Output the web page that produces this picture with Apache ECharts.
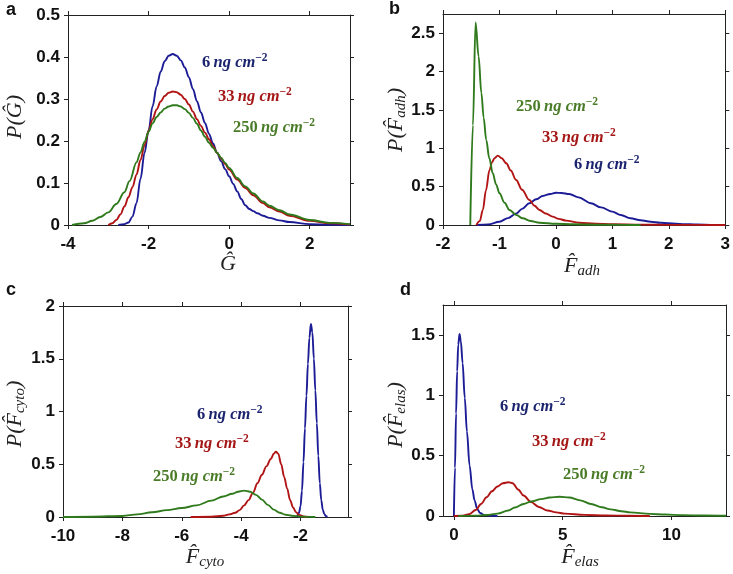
<!DOCTYPE html>
<html><head><meta charset="utf-8">
<script src="https://cdn.jsdelivr.net/npm/echarts@6/dist/echarts.min.js"></script>
<style>html,body{margin:0;padding:0;background:#fff}#c{width:733px;height:574px}</style>
</head><body><div id="c"></div>
<script>
// ---------- Panel a : G ----------
const aBlue = [[-2.75,0],[-2.6,0.002],[-2.5,0.006],[-2.4,0.02],[-2.3,0.052],[-2.2,0.11],[-2.1,0.172],[-2.0,0.225],[-1.9,0.283],[-1.8,0.33],[-1.7,0.365],[-1.6,0.39],[-1.5,0.403],[-1.4,0.407],[-1.3,0.403],[-1.2,0.392],[-1.1,0.375],[-1.0,0.352],[-0.9,0.324],[-0.8,0.295],[-0.7,0.268],[-0.6,0.243],[-0.5,0.217],[-0.4,0.194],[-0.3,0.172],[-0.2,0.152],[-0.1,0.133],[0,0.116],[0.1,0.098],[0.2,0.08],[0.3,0.062],[0.4,0.047],[0.5,0.038],[0.6,0.033],[0.7,0.028],[0.84,0.022],[1.0,0.017],[1.25,0.011],[1.5,0.007],[2,0.002],[2.5,0.0005],[3,0]];
const aRed = [[-3.0,0],[-2.9,0.004],[-2.8,0.012],[-2.7,0.025],[-2.6,0.044],[-2.5,0.066],[-2.4,0.09],[-2.3,0.12],[-2.2,0.155],[-2.1,0.19],[-2.0,0.224],[-1.9,0.252],[-1.8,0.275],[-1.7,0.294],[-1.6,0.307],[-1.5,0.315],[-1.4,0.318],[-1.3,0.316],[-1.2,0.31],[-1.1,0.3],[-1.0,0.287],[-0.9,0.27],[-0.8,0.252],[-0.7,0.236],[-0.6,0.22],[-0.5,0.204],[-0.4,0.188],[-0.3,0.172],[-0.2,0.158],[-0.1,0.145],[0,0.132],[0.2,0.108],[0.4,0.088],[0.6,0.071],[0.84,0.052],[1.0,0.042],[1.25,0.032],[1.5,0.022],[2.0,0.01],[2.5,0.004],[3,0.001]];
const aGreen = [[-3.9,0],[-3.6,0.004],[-3.4,0.01],[-3.2,0.019],[-3.0,0.03],[-2.8,0.05],[-2.6,0.078],[-2.47,0.105],[-2.3,0.149],[-2.2,0.173],[-2.1,0.198],[-2.0,0.222],[-1.9,0.242],[-1.8,0.257],[-1.7,0.268],[-1.6,0.277],[-1.5,0.282],[-1.4,0.285],[-1.3,0.285],[-1.2,0.282],[-1.1,0.276],[-1.0,0.267],[-0.9,0.255],[-0.8,0.241],[-0.7,0.225],[-0.6,0.21],[-0.5,0.196],[-0.4,0.184],[-0.3,0.172],[-0.2,0.16],[-0.1,0.148],[0,0.136],[0.2,0.112],[0.4,0.092],[0.6,0.075],[0.84,0.056],[1.0,0.046],[1.25,0.035],[1.5,0.025],[2.0,0.012],[2.5,0.005],[3,0.002]];
const aXTicks = [-4,-2,0,2];
const aYTicks = [0,0.1,0.2,0.3,0.4,0.5];

// ---------- Panel b : F_adh ----------
const bBlue = [[-1.4,0],[-1.2,0.008],[-1.0,0.043],[-0.85,0.09],[-0.7,0.152],[-0.6,0.21],[-0.47,0.283],[-0.35,0.335],[-0.235,0.378],[-0.1,0.405],[0.0,0.42],[0.1,0.418],[0.235,0.404],[0.4,0.36],[0.62,0.283],[0.8,0.23],[1.0,0.174],[1.15,0.13],[1.32,0.087],[1.5,0.062],[1.68,0.043],[1.85,0.03],[2.0,0.022],[2.25,0.012],[2.5,0.006],[2.75,0.002],[3.0,0]];
const bRed = [[-1.41,0],[-1.35,0.05],[-1.294,0.196],[-1.24,0.45],[-1.176,0.717],[-1.13,0.82],[-1.088,0.87],[-1.03,0.904],[-0.96,0.87],[-0.88,0.804],[-0.8,0.71],[-0.705,0.587],[-0.6,0.46],[-0.47,0.326],[-0.38,0.25],[-0.29,0.196],[-0.18,0.15],[-0.06,0.109],[0.05,0.08],[0.18,0.057],[0.41,0.03],[0.7,0.017],[1.0,0.01],[1.5,0.005],[2.0,0.002],[2.5,0.001],[3.0,0]];
const bGreen = [[-1.517,0],[-1.47,1.3],[-1.423,2.64],[-1.37,2.2],[-1.32,1.72],[-1.28,1.4],[-1.234,1.109],[-1.18,0.87],[-1.118,0.674],[-1.06,0.53],[-1.0,0.413],[-0.91,0.29],[-0.823,0.196],[-0.7,0.13],[-0.588,0.087],[-0.45,0.052],[-0.29,0.03],[0.0,0.016],[0.3,0.01],[0.8,0.004],[1.2,0.001],[1.5,0]];
const bXTicks = [-2,-1,0,1,2,3];
const bYTicks = [0,0.5,1,1.5,2,2.5];

// ---------- Panel c : F_cyto ----------
const cBlue = [[-2.15,0],[-2.1,0.01],[-2.05,0.04],[-2.0,0.1],[-1.95,0.25],[-1.9,0.52],[-1.85,0.84],[-1.8,1.15],[-1.75,1.45],[-1.7,1.7],[-1.65,1.83],[-1.6,1.75],[-1.55,1.5],[-1.5,1.2],[-1.45,0.89],[-1.4,0.58],[-1.35,0.32],[-1.3,0.16],[-1.25,0.07],[-1.2,0.03],[-1.15,0.01],[-1.1,0]];
const cRed = [[-5.7,0],[-5.0,0.003],[-4.6,0.012],[-4.4,0.025],[-4.2,0.04],[-4.05,0.065],[-3.9,0.11],[-3.75,0.16],[-3.6,0.23],[-3.45,0.32],[-3.3,0.4],[-3.15,0.48],[-3.0,0.55],[-2.9,0.6],[-2.83,0.62],[-2.75,0.6],[-2.65,0.5],[-2.55,0.38],[-2.45,0.27],[-2.35,0.16],[-2.25,0.09],[-2.15,0.045],[-2.05,0.02],[-1.9,0.005],[-1.75,0]];
const cGreen = [[-10,0],[-9,0.003],[-8,0.01],[-7.5,0.025],[-7,0.045],[-6.5,0.065],[-6,0.085],[-5.5,0.11],[-5,0.155],[-4.6,0.195],[-4.3,0.22],[-4.1,0.24],[-3.9,0.25],[-3.7,0.24],[-3.5,0.21],[-3.3,0.165],[-3.1,0.115],[-2.9,0.07],[-2.7,0.04],[-2.5,0.022],[-2.3,0.012],[-2.0,0.004],[-1.5,0]];
const cXTicks = [-10,-8,-6,-4,-2];
const cYTicks = [0,0.5,1,1.5,2];

// ---------- Panel d : F_elas ----------
const dBlue = [[0.0,0],[0.05,0.4],[0.1,0.85],[0.15,1.2],[0.2,1.42],[0.26,1.51],[0.32,1.45],[0.4,1.27],[0.5,0.98],[0.6,0.7],[0.72,0.42],[0.85,0.22],[0.95,0.13],[1.07,0.06],[1.2,0.025],[1.4,0.008],[1.7,0.002],[2.0,0]];
const dRed = [[0,0],[0.4,0.003],[0.7,0.015],[1.0,0.05],[1.25,0.1],[1.5,0.155],[1.75,0.205],[2.0,0.245],[2.25,0.272],[2.5,0.28],[2.7,0.272],[2.95,0.22],[3.2,0.17],[3.55,0.115],[3.9,0.075],[4.3,0.046],[4.7,0.03],[5.1,0.02],[6,0.009],[7,0.004],[8,0.002],[9,0]];
const dGreen = [[0.2,0],[1,0.003],[1.5,0.008],[2.0,0.02],[2.5,0.045],[2.8,0.07],[3.2,0.1],[3.55,0.12],[4.0,0.14],[4.4,0.153],[4.85,0.16],[5.3,0.153],[5.8,0.13],[6.3,0.1],[6.8,0.072],[7.2,0.055],[7.7,0.04],[8.1,0.03],[9,0.018],[9.7,0.012],[10.5,0.007],[11.5,0.004],[12.5,0.002]];
const dXTicks = [0,5,10];
const dYTicks = [0,0.5,1,1.5];

const seriesNames = ['6 ng cm−2','33 ng cm−2','250 ng cm−2'];
const lineColors = ['#1c1c96','#b01414','#2f7a1c'];
const textColors = ['#1c2470','#a51616','#4a7c28'];

const panels = [
  {grid:{left:68,top:15,width:282,height:210}, x:[-4,3], y:[0,0.5], xt:aXTicks, yt:aYTicks, data:[aBlue,aRed,aGreen]},
  {grid:{left:443,top:14,width:283,height:211}, x:[-2,3], y:[0,2.75], xt:bXTicks, yt:bYTicks, data:[bBlue,bRed,bGreen]},
  {grid:{left:63,top:306,width:285,height:211}, x:[-10,-0.4], y:[0,2], xt:cXTicks, yt:cYTicks, data:[cBlue,cRed,cGreen]},
  {grid:{left:443,top:305,width:283,height:211}, x:[-0.5,12.5], y:[0,1.75], xt:dXTicks, yt:dYTicks, data:[dBlue,dRed,dGreen]}
];

const axisLine = {show:true, onZero:false, lineStyle:{color:'#222', width:1}};
const tickFont = {fontFamily:'Liberation Sans, Arial', fontWeight:'bold', fontSize:17, color:'#111'};
const grid=[], xAxis=[], yAxis=[], series=[];
panels.forEach((p,i)=>{
  grid.push(p.grid);
  const base = {type:'value', gridIndex:i, axisLine, splitLine:{show:false}};
  xAxis.push(Object.assign({}, base, {position:'bottom', min:p.x[0], max:p.x[1],
    axisTick:{show:true, inside:false, length:4, lineStyle:{color:'#222'}, customValues:p.xt},
    axisLabel:Object.assign({show:true, margin:11, customValues:p.xt}, tickFont)}));
  xAxis.push(Object.assign({}, base, {position:'top', min:p.x[0], max:p.x[1],
    axisTick:{show:true, inside:false, length:4, lineStyle:{color:'#222'}, customValues:p.xt},
    axisLabel:{show:false, customValues:p.xt}}));
  yAxis.push(Object.assign({}, base, {position:'left', min:p.y[0], max:p.y[1],
    axisTick:{show:true, inside:false, length:4, lineStyle:{color:'#222'}, customValues:p.yt},
    axisLabel:Object.assign({show:true, margin:8, customValues:p.yt}, tickFont)}));
  yAxis.push(Object.assign({}, base, {position:'right', min:p.y[0], max:p.y[1],
    axisTick:{show:true, inside:false, length:4, lineStyle:{color:'#222'}, customValues:p.yt},
    axisLabel:{show:false, customValues:p.yt}}));
  p.data.forEach((d,k)=>{
    series.push({type:'line', name:seriesNames[k], xAxisIndex:2*i, yAxisIndex:2*i, data:d,
      showSymbol:false, smooth:0.35, smoothMonotone:'x', clip:true,
      lineStyle:{color:lineColors[k], width:1.9}, itemStyle:{color:lineColors[k]}, z:2+k, silent:true});
  });
});

// text helpers
const serif = 'Liberation Serif, Times New Roman, serif';
function annot(x,y,num,k){
  return {type:'text', x, y, style:{
    text:'{n|'+num+'} {i|ng cm}{p|−2}', align:'left', verticalAlign:'middle',
    rich:{
      n:{fontFamily:serif, fontWeight:'bold', fontSize:16.5, fill:textColors[k], lineHeight:21},
      i:{fontFamily:serif, fontWeight:'bold', fontStyle:'italic', fontSize:16.5, fill:textColors[k], lineHeight:21},
      p:{fontFamily:serif, fontWeight:'bold', fontSize:11.5, fill:textColors[k], verticalAlign:'top', lineHeight:13}
    }}};
}
const titleRich = {
  t:{fontFamily:serif, fontStyle:'italic', fontSize:22, fill:'#222', lineHeight:26},
  s:{fontFamily:serif, fontStyle:'italic', fontSize:15, fill:'#222', verticalAlign:'bottom', lineHeight:16}
};
function xTitle(x,y,txt){ return {type:'text', x, y, style:{text:txt, align:'center', verticalAlign:'middle', rich:titleRich}}; }
function yTitle(x,y,txt){ return {type:'text', x, y, rotation:Math.PI/2, style:{text:txt, align:'center', verticalAlign:'middle', rich:titleRich}}; }
function letter(x,y,t){ return {type:'text', x, y, style:{text:t, fontFamily:'Liberation Sans, Arial', fontWeight:'bold', fontSize:18, fill:'#111', align:'left', verticalAlign:'top'}}; }

const graphic = [
  letter(6,1,'a'), letter(389,0,'b'), letter(6,281,'c'), letter(400,281,'d'),
  xTitle(228,264,'{t|Ĝ}'),
  xTitle(582,266,'{t|F\u0302}{s|adh}'),
  xTitle(205,557,'{t|F\u0302}{s|cyto}'),
  xTitle(580,557,'{t|F\u0302}{s|elas}'),
  yTitle(15,117,'{t|P(Ĝ)}'),
  yTitle(396,120,'{t|P(F\u0302}{s|adh}{t|)}'),
  yTitle(15,414,'{t|P(F\u0302}{s|cyto}{t|)}'),
  yTitle(396,415,'{t|P(F\u0302}{s|elas}{t|)}'),
  annot(202,63,'6',0), annot(218,97,'33',1), annot(233,128,'250',2),
  annot(516,107,'250',2), annot(542,138,'33',1), annot(574,165,'6',0),
  annot(197,415,'6',0), annot(175,444,'33',1), annot(153,477,'250',2),
  annot(500,407,'6',0), annot(532,442,'33',1), annot(563,475,'250',2)
];

const chart = echarts.init(document.getElementById('c'), null, {renderer:'canvas'});
chart.setOption({animation:false, backgroundColor:'#fff', grid, xAxis, yAxis, series, graphic});
</script></body></html>
